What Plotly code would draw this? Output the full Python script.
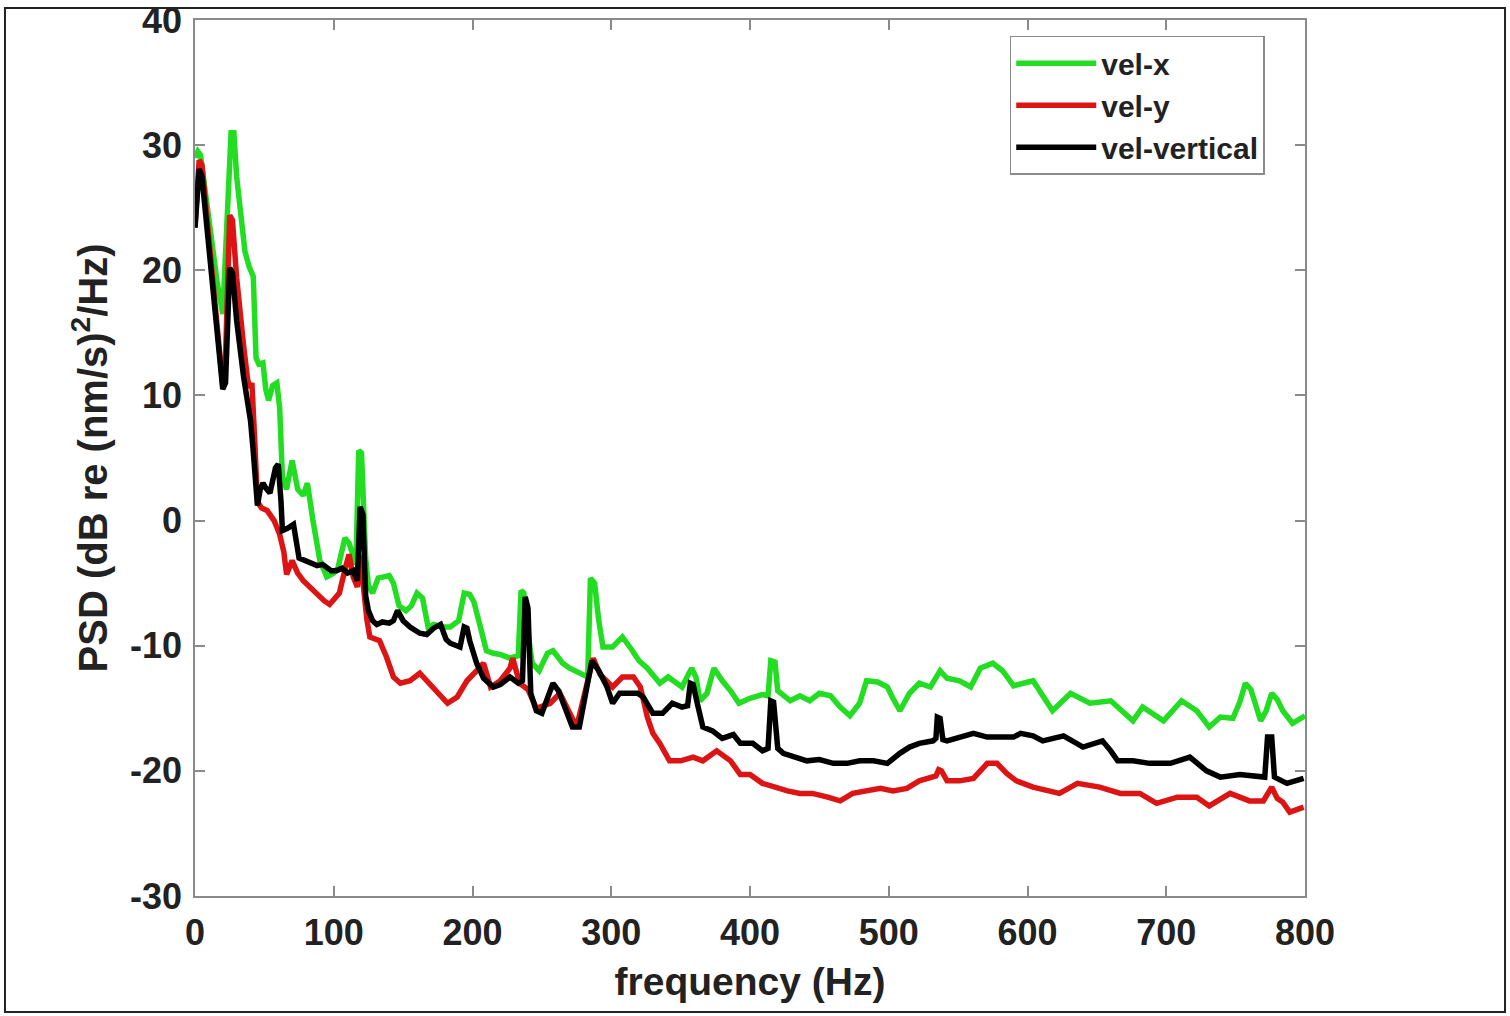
import plotly.graph_objects as go

# ---- data ----
vel_x_freq = [0, 2, 4, 10, 16, 20, 23, 26, 28, 30, 33, 36, 39, 42, 44, 46, 49, 51, 53, 56, 59, 61, 63, 66, 70, 74, 78, 81, 85, 90, 95, 100, 103, 108, 111, 116, 118, 120, 123, 125, 128, 132, 136, 140, 143, 147, 152, 156, 160, 164, 168, 172, 178, 184, 190, 194, 198, 201, 205, 210, 215, 220, 227, 233, 235, 237, 240, 243, 248, 254, 258, 265, 270, 277, 283, 285, 288, 291, 294, 301, 308, 314, 320, 326, 335, 341, 345, 351, 356, 358, 361, 364, 369, 374, 380, 386, 392, 400, 409, 413, 415, 418, 420, 429, 436, 443, 450, 458, 465, 472, 479, 484, 492, 499, 503, 508, 515, 522, 530, 537, 542, 551, 559, 566, 575, 582, 590, 604, 618, 631, 645, 660, 676, 683, 698, 711, 722, 731, 739, 748, 753, 757, 761, 768, 772, 776, 780, 784, 791, 797, 800]
vel_x_db = [29.0, 29.5, 29.2, 24, 19, 16.5, 24, 31.0, 31.0, 27.5, 24.5, 21.5, 20.3, 19.5, 13, 12.5, 12.6, 10.5, 9.6, 10.8, 11.0, 9, 3.5, 2.5, 4.8, 2.5, 2.0, 3.0, 0, -3.2, -4.5, -4.2, -3.8, -1.4, -1.8, -3.5, 5.6, 5.4, -3, -5.2, -5.8, -4.6, -4.5, -4.4, -5, -6.8, -7.2, -6.8, -5.8, -6.2, -8.5, -8.3, -8.5, -8.5, -8, -5.8, -5.9, -6.5, -8.2, -10.4, -10.6, -10.7, -11, -10.8, -5.6, -5.8, -9, -11.4, -12, -10.6, -10.4, -11.4, -11.8, -12.2, -12.5, -4.6, -5, -8, -10.1, -10.1, -9.3, -10.2, -11.2, -11.8, -13, -12.5, -12.8, -13.3, -12.2, -11.8, -12.5, -14.4, -13.8, -11.8, -12.8, -13.6, -14.6, -14.2, -13.9, -14, -11.2, -11.3, -13.6, -14.4, -14.0, -14.4, -13.8, -14.0, -14.9, -15.6, -14.6, -12.8, -12.9, -13.3, -14.2, -15.2, -13.8, -13, -13.3, -12.0, -12.6, -12.8, -13.3, -11.8, -11.4, -12, -13.2, -12.8, -15.2, -13.8, -14.6, -14.4, -16, -14.9, -16, -14.4, -15.2, -16.5, -15.7, -15.8, -14.5, -13, -13.5, -16, -15.2, -13.8, -14.3, -15.2, -16.2, -15.8, -15.6]

vel_y_freq = [0, 1, 3, 5, 10, 15, 20, 22, 25, 27, 30, 35, 38, 40, 41, 43, 45, 48, 52, 57, 61, 64, 66, 70, 74, 78, 84, 88, 93, 97, 104, 109, 111, 114, 117, 119, 121, 124, 126, 133, 138, 143, 148, 155, 162, 167, 174, 182, 189, 196, 203, 208, 213, 220, 227, 229, 234, 240, 246, 256, 263, 270, 275, 282, 287, 292, 301, 308, 316, 321, 326, 330, 335, 342, 350, 359, 366, 376, 386, 393, 400, 409, 417, 427, 436, 445, 456, 465, 474, 484, 494, 503, 513, 522, 530, 534, 536, 538, 542, 551, 561, 571, 578, 585, 592, 604, 623, 636, 652, 667, 681, 693, 708, 722, 731, 746, 760, 770, 776, 780, 784, 789, 799]
vel_y_db = [23.5, 26, 28.8, 28.4, 22.5, 16.5, 10.8, 13, 24.4, 24.0, 19.4, 14.0, 11.2, 10.6, 11.0, 6.5, 1.5, 1.0, 0.8, 0.0, -1.1, -2.5, -4.3, -3.2, -4.2, -4.8, -5.5, -5.9, -6.4, -6.7, -5.8, -3.5, -2.7, -4.5, -5.3, -2.8, -5.4, -8, -9.3, -9.6, -10.9, -12.5, -13, -12.8, -12.2, -12.8, -13.8, -14.6, -14.1, -12.8, -12.0, -11.4, -13.3, -12.8, -11.8, -11, -13, -13.5, -15, -14.6, -13.8, -15.4, -16.5, -13.3, -11, -12.3, -13.3, -12.5, -12.5, -13.3, -15.7, -17, -17.8, -19.2, -19.2, -18.9, -19.2, -18.4, -19.2, -20.3, -20.3, -21.0, -21.3, -21.6, -21.8, -21.8, -22.1, -22.4, -21.8, -21.6, -21.4, -21.6, -21.4, -20.8, -20.6, -20.4, -19.9, -20.0, -20.8, -20.8, -20.6, -19.4, -19.4, -20.2, -20.8, -21.3, -21.8, -21, -21.3, -21.8, -21.8, -22.6, -22.1, -22.1, -22.8, -21.8, -22.4, -22.4, -21.3, -22.2, -22.5, -23.3, -22.9]

vel_vertical_freq = [0, 1, 3, 5, 10, 15, 20, 22, 25, 27, 30, 35, 38, 40, 42, 44, 45, 47, 49, 51, 54, 58, 60, 62, 63, 67, 71, 75, 81, 88, 92, 98, 102, 106, 110, 114, 117, 119, 121, 123, 125, 128, 131, 135, 140, 143, 146, 150, 155, 162, 167, 172, 177, 181, 184, 191, 194, 196, 198, 203, 208, 212, 215, 220, 227, 233, 236, 238, 240, 242, 246, 250, 258, 262, 266, 272, 277, 282, 286, 291, 297, 301, 306, 313, 319, 323, 330, 337, 344, 351, 355, 357, 359, 362, 366, 373, 380, 388, 393, 402, 409, 413, 415, 417, 420, 424, 434, 441, 450, 460, 470, 479, 489, 499, 508, 515, 522, 532, 534, 535, 537, 539, 542, 551, 561, 571, 580, 590, 595, 604, 611, 626, 640, 654, 660, 665, 676, 688, 703, 717, 729, 739, 753, 765, 771, 773, 776, 778, 787, 799]
vel_vertical_db = [23.4, 25.5, 28.1, 27.5, 22, 16, 10.5, 11, 20.2, 19.8, 16, 11.5, 9.6, 8, 5.5, 2, 1.2, 2.5, 3.0, 2.6, 2.2, 4.2, 4.5, 1.5, -0.8, -0.6, -0.3, -3, -3.3, -3.6, -3.5, -4, -4.0, -3.8, -4.2, -4.0, -4.8, 1.1, 0.5, -6, -7.2, -8, -8.3, -8.1, -8.2, -8.0, -7.2, -8.0, -8.5, -9, -9.1, -8.6, -8.3, -9.5, -9.8, -10.1, -8.5, -8.6, -9.6, -11.4, -12.6, -13.0, -13.3, -13.1, -12.5, -13, -12.8, -6.1, -7, -13.8, -15.2, -15.4, -13, -13.6, -14.8, -16.5, -16.5, -13.6, -11.2, -12, -13.3, -14.6, -13.8, -13.8, -13.8, -14.1, -15.4, -15.4, -14.6, -14.9, -14.8, -13, -13.1, -14.6, -16.5, -16.8, -17.4, -17.1, -17.8, -17.8, -18.4, -18.2, -14.4, -14.5, -18.2, -18.6, -18.9, -19.2, -19.1, -19.4, -19.4, -19.2, -19.2, -19.4, -18.6, -18.1, -17.8, -17.6, -17.4, -15.7, -15.8, -17.5, -17.6, -17.3, -17, -17.3, -17.3, -17.3, -17.0, -17.2, -17.6, -17.2, -18.1, -17.6, -18.4, -19.2, -19.2, -19.4, -19.4, -18.9, -20, -20.5, -20.3, -20.5, -20.5, -17.3, -17.3, -20.5, -21, -20.6]

x_ticks = [0, 100, 200, 300, 400, 500, 600, 700, 800]
x_tick_labels = ["0", "100", "200", "300", "400", "500", "600", "700", "800"]
y_ticks = [-30, -20, -10, 0, 10, 20, 30, 40]
y_tick_labels = ["-30", "-20", "-10", "0", "10", "20", "30", "40"]

series = [
    ("vel-x", vel_x_freq, vel_x_db, "#22dd22"),
    ("vel-y", vel_y_freq, vel_y_db, "#dc1414"),
    ("vel-vertical", vel_vertical_freq, vel_vertical_db, "#000000"),
]

FONT = "Liberation Sans, Arial, sans-serif"

fig = go.Figure()
for name, f, db, col in series:
    fig.add_trace(go.Scatter(x=f, y=db, mode="lines", name=name,
                             line=dict(color=col, width=5.5)))

axis_common = dict(
    showline=True, linecolor="#8a8a8a", linewidth=1.5, mirror="ticks",
    ticks="inside", ticklen=10, tickwidth=1.5, tickcolor="#8a8a8a",
    showgrid=False, zeroline=False, ticklabeloverflow="allow",
    tickfont=dict(family=FONT, size=36, color="#222222", weight="bold"),
)

fig.update_xaxes(range=[0, 800], tickvals=x_ticks, ticktext=x_tick_labels,
                 ticklabelstandoff=4,
                 title=dict(text="frequency (Hz)", standoff=16,
                            font=dict(family=FONT, size=39, color="#222222", weight="bold")),
                 **axis_common)
fig.update_yaxes(range=[-30, 40], tickvals=y_ticks, ticktext=y_tick_labels,
                 ticklabelstandoff=4,
                 title=dict(text="PSD (dB re (nm/s)<sup>2</sup>/Hz)", standoff=10,
                            font=dict(family=FONT, size=40, color="#222222", weight="bold")),
                 **axis_common)

# outer frame of the picture
fig.add_shape(type="rect", xref="paper", yref="paper",
              x0=-0.1712, x1=1.1802, y0=-0.1324, y1=1.0137,
              line=dict(color="#222222", width=2), fillcolor="rgba(0,0,0,0)")

fig.update_layout(
    width=1510, height=1016,
    margin=dict(l=195, r=205, t=20, b=120, autoexpand=False),
    paper_bgcolor="white", plot_bgcolor="white",
    showlegend=True,
    legend=dict(x=0.734, y=0.982, xanchor="left", yanchor="top",
                bgcolor="white", bordercolor="#8a8a8a", borderwidth=1.5,
                font=dict(family=FONT, size=30, color="#222222", weight="bold"),
                itemwidth=80, tracegroupgap=0),
)

fig.write_html("out.html")
